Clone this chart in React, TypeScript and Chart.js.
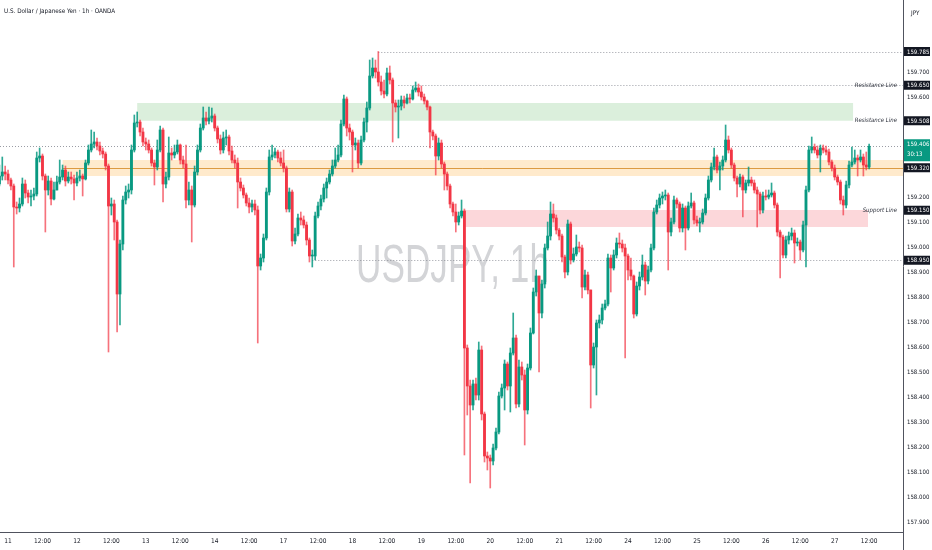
import React, { useEffect, useRef } from "react";
import { Chart, registerables } from "chart.js";

Chart.register(...registerables);

// ---------- DATA ----------
const xTickLabels = ["11","12:00","12","12:00","13","12:00","14","12:00","17","12:00","18","12:00","19","12:00","20","12:00","21","12:00","24","12:00","25","12:00","26","12:00","27","12:00"];
const firstTickIndex = 3;
const candlesPerHalfDay = 12;

const firstOpen = 159.255;
const closes = [
159.287,159.303,159.295,159.271,159.247,159.163,159.159,159.175,159.255,159.219,
159.203,159.207,159.215,159.359,159.367,159.287,159.231,159.267,159.195,159.231,
159.263,159.283,159.311,159.267,159.283,159.275,159.259,159.279,159.287,159.275,
159.339,159.391,159.415,159.423,159.407,159.387,159.375,159.327,159.167,159.175,
159.103,158.815,159.015,159.191,159.223,159.231,159.391,159.499,159.503,159.463,
159.423,159.415,159.391,159.339,159.323,159.391,159.471,159.255,159.283,159.379,
159.371,159.383,159.411,159.351,159.335,159.191,159.231,159.171,159.303,159.391,
159.479,159.519,159.507,159.519,159.527,159.479,159.435,159.391,159.439,159.443,
159.387,159.351,159.339,159.263,159.239,159.211,159.179,159.163,159.175,159.151,
158.927,158.959,159.039,159.223,159.363,159.371,159.383,159.359,159.339,159.319,
159.155,159.223,159.027,159.055,159.119,159.111,159.091,159.031,158.967,158.967,
159.127,159.167,159.195,159.239,159.263,159.295,159.327,159.351,159.371,159.495,
159.595,159.479,159.463,159.411,159.419,159.339,159.431,159.503,159.559,159.687,
159.719,159.703,159.663,159.627,159.615,159.699,159.671,159.579,159.563,159.567,
159.591,159.579,159.599,159.595,159.631,159.639,159.623,159.603,159.587,159.563,
159.463,159.447,159.367,159.419,159.335,159.295,159.247,159.175,159.143,159.103,
159.127,159.147,158.599,158.447,158.371,158.455,158.411,158.591,158.335,158.167,
158.159,158.147,158.199,158.263,158.407,158.439,158.535,158.447,158.579,158.639,
158.375,158.523,158.491,158.351,158.519,158.659,158.823,158.887,158.739,158.855,
158.999,159.047,159.135,159.119,159.071,159.047,158.963,158.903,159.095,158.951,
158.975,159.003,158.999,158.843,158.891,158.831,158.531,158.603,158.699,158.711,
158.759,158.775,158.959,158.919,158.971,159.019,159.015,158.999,158.967,158.911,
158.887,158.735,158.847,158.883,158.931,158.867,158.911,158.999,159.143,159.171,
159.199,159.207,159.211,159.063,159.103,159.191,159.175,159.079,159.159,159.079,
159.167,159.179,159.111,159.099,159.103,159.139,159.199,159.271,159.323,159.363,
159.311,159.327,159.351,159.431,159.391,159.331,159.279,159.255,159.283,159.231,
159.259,159.271,159.259,159.231,159.215,159.151,159.207,159.203,159.211,159.219,
159.171,159.063,159.043,158.971,159.031,159.047,159.059,159.019,159.023,158.991,
159.091,159.231,159.391,159.403,159.391,159.371,159.399,159.391,159.383,159.343,
159.319,159.283,159.263,159.191,159.171,159.251,159.331,159.343,159.359,159.351,
159.363,159.331,159.323,159.406
];
const highs = [
159.331,159.363,159.327,159.311,159.279,159.255,159.183,159.199,159.279,159.271,
159.231,159.231,159.239,159.383,159.399,159.375,159.295,159.287,159.279,159.263,
159.287,159.351,159.331,159.327,159.303,159.303,159.291,159.303,159.311,159.295,
159.351,159.411,159.471,159.463,159.439,159.423,159.399,159.383,159.335,159.199,
159.191,159.111,159.031,159.207,159.247,159.255,159.411,159.531,159.543,159.511,
159.479,159.439,159.431,159.399,159.351,159.431,159.487,159.479,159.303,159.443,
159.399,159.411,159.431,159.415,159.367,159.411,159.263,159.247,159.327,159.411,
159.495,159.563,159.543,159.563,159.559,159.535,159.487,159.451,159.463,159.471,
159.451,159.407,159.371,159.359,159.279,159.251,159.219,159.199,159.191,159.191,
159.167,158.975,159.055,159.239,159.391,159.411,159.399,159.391,159.383,159.391,
159.327,159.239,159.231,159.079,159.135,159.143,159.127,159.103,159.039,158.991,
159.143,159.183,159.211,159.255,159.279,159.311,159.351,159.399,159.411,159.511,
159.611,159.603,159.495,159.471,159.439,159.431,159.447,159.519,159.583,159.751,
159.759,159.751,159.785,159.687,159.671,159.719,159.727,159.679,159.591,159.591,
159.607,159.607,159.615,159.615,159.647,159.663,159.655,159.647,159.615,159.591,
159.567,159.471,159.455,159.439,159.431,159.343,159.303,159.255,159.183,159.175,
159.143,159.191,159.155,158.611,158.471,158.471,158.479,158.623,158.607,158.343,
158.183,158.171,158.215,158.279,158.423,158.455,158.551,158.543,158.599,158.739,
158.651,158.551,158.543,158.511,158.535,158.679,158.839,158.911,158.839,158.871,
159.015,159.103,159.183,159.175,159.131,159.079,159.055,158.971,159.111,159.103,
158.999,159.051,159.023,159.011,158.911,158.903,158.831,158.619,158.711,158.731,
158.775,158.791,158.975,158.971,158.991,159.039,159.059,159.031,159.015,158.975,
158.959,158.891,158.863,158.903,158.971,158.943,158.927,159.015,159.159,159.191,
159.215,159.223,159.231,159.219,159.119,159.207,159.199,159.183,159.175,159.167,
159.183,159.219,159.187,159.127,159.119,159.155,159.215,159.287,159.339,159.399,
159.371,159.343,159.367,159.491,159.447,159.399,159.339,159.287,159.295,159.291,
159.271,159.323,159.283,159.271,159.243,159.223,159.223,159.231,159.231,159.259,
159.227,159.179,159.071,159.051,159.047,159.063,159.079,159.071,159.039,159.031,
159.107,159.247,159.407,159.443,159.415,159.407,159.411,159.411,159.407,159.395,
159.351,159.331,159.291,159.271,159.207,159.267,159.347,159.403,159.391,159.371,
159.391,159.375,159.383,159.415
];
const lows = [
159.247,159.271,159.271,159.255,159.231,158.923,159.135,159.143,159.167,159.199,
159.179,159.167,159.191,159.207,159.343,159.271,159.063,159.211,159.171,159.191,
159.231,159.255,159.271,159.247,159.259,159.255,159.191,159.247,159.267,159.207,
159.271,159.331,159.383,159.399,159.391,159.371,159.359,159.311,158.583,159.131,
159.031,158.663,158.691,158.991,159.175,159.199,159.215,159.383,159.483,159.447,
159.407,159.391,159.379,159.327,159.251,159.311,159.383,159.183,159.239,159.271,
159.351,159.359,159.375,159.335,159.319,159.159,159.171,159.023,159.163,159.291,
159.383,159.471,159.491,159.495,159.503,159.467,159.419,159.375,159.379,159.411,
159.371,159.339,159.319,159.159,159.227,159.199,159.167,159.139,159.143,159.131,
158.619,158.911,158.943,159.031,159.211,159.351,159.359,159.343,159.327,159.303,
159.143,159.143,159.007,159.015,159.047,159.091,159.079,159.011,158.943,158.923,
158.951,159.119,159.151,159.183,159.199,159.255,159.287,159.319,159.343,159.363,
159.487,159.447,159.431,159.303,159.391,159.319,159.331,159.423,159.463,159.551,
159.679,159.679,159.647,159.611,159.599,159.607,159.655,159.423,159.543,159.439,
159.551,159.559,159.575,159.579,159.591,159.623,159.607,159.591,159.575,159.551,
159.399,159.431,159.291,159.351,159.319,159.231,159.231,159.159,159.127,159.063,
159.091,159.119,158.171,158.331,158.059,158.351,158.391,158.391,158.311,158.143,
158.111,158.039,158.131,158.191,158.255,158.399,158.351,158.431,158.343,158.571,
158.359,158.363,158.471,158.211,158.335,158.511,158.655,158.807,158.503,158.719,
158.839,158.991,159.031,159.103,159.055,159.031,158.943,158.879,158.891,158.935,
158.943,158.967,158.983,158.799,158.831,158.815,158.359,158.519,158.411,158.679,
158.695,158.751,158.767,158.823,158.911,158.959,158.999,158.983,158.559,158.871,
158.871,158.719,158.727,158.831,158.871,158.811,158.855,158.903,158.991,159.135,
159.159,159.175,159.191,158.911,159.047,159.095,159.159,159.063,159.063,158.991,
159.071,159.159,159.095,159.087,159.063,159.095,159.131,159.191,159.263,159.311,
159.299,159.231,159.311,159.343,159.379,159.319,159.267,159.203,159.243,159.123,
159.219,159.247,159.247,159.219,159.083,159.135,159.139,159.191,159.195,159.203,
159.159,159.047,158.879,158.959,158.959,159.015,159.031,158.939,159.007,158.951,
158.983,158.923,159.223,159.379,159.379,159.359,159.303,159.379,159.371,159.331,
159.307,159.271,159.251,159.175,159.131,159.159,159.239,159.323,159.335,159.287,
159.343,159.287,159.311,159.315
];

const yTickValues = [157.9,158.0,158.1,158.2,158.3,158.4,158.5,158.6,158.7,158.8,158.9,159.0,159.1,159.2,159.6,159.7];

// zones: candle index range and price band
const zoneFrom = [48, 22, 162];
const zoneTo = [297.4, 314.8, 302.6];
const zoneTop = [159.579, 159.351, 159.151];
const zoneBottom = [159.508, 159.287, 159.083];
const pivotLevel = 159.320;

const levelValues = [159.785, 159.650, 158.950, 159.406];
const levelFrom = [132, 139, 109, 0.2];

const tagValues = [159.785, 159.650, 159.508, 159.320, 159.150, 158.950];
const lastPrice = 159.406;
const countdown = "30:13";

const lineLabelValues = [159.650, 159.508, 159.150];
const lineLabelTexts = ["Resistance Line", "Resistance Line", "Support Line"];

// ---------- STYLE ----------
const UP = "#089981";
const DOWN = "#f23645";
const FONT = '"Liberation Sans Narrow", "DejaVu Sans Condensed", "Liberation Sans", sans-serif';
const ZONE_COLORS = ["rgba(76,175,80,0.2)", "rgba(255,152,0,0.2)", "rgba(242,54,69,0.2)"];
const X_MIN = 0.2;
const X_MAX = 314.8;

const opens = closes.map((_, i) => (i === 0 ? firstOpen : closes[i - 1]));

const overlayPlugin = {
  id: "overlay",
  beforeDatasetsDraw(chart: any) {
    const { ctx, chartArea: a, scales } = chart;
    const x = scales.x, y = scales.y;
    ctx.save();
    ctx.beginPath();
    ctx.rect(a.left, a.top, a.right - a.left, a.bottom - a.top);
    ctx.clip();

    // watermark
    ctx.save();
    ctx.font = `54px "Liberation Sans", sans-serif`;
    const wm = "USDJPY, 1h";
    const w = ctx.measureText(wm).width;
    ctx.translate((a.left + a.right) / 2 + 1, (a.top + a.bottom) / 2 + 1);
    ctx.scale(193 / w, 1);
    ctx.textAlign = "center";
    ctx.textBaseline = "middle";
    ctx.fillStyle = "rgba(120,123,134,0.33)";
    ctx.fillText(wm, 0, 0);
    ctx.restore();

    // zones
    zoneFrom.forEach((f, k) => {
      const x0 = x.getPixelForValue(f);
      const x1 = x.getPixelForValue(zoneTo[k]);
      const y0 = y.getPixelForValue(zoneTop[k]);
      const y1 = y.getPixelForValue(zoneBottom[k]);
      ctx.fillStyle = ZONE_COLORS[k];
      ctx.fillRect(x0, y0, x1 - x0, y1 - y0);
    });
    // pivot line inside orange zone
    {
      const py = Math.round(y.getPixelForValue(pivotLevel)) + 0.5;
      ctx.strokeStyle = "rgba(214,140,40,0.85)";
      ctx.lineWidth = 1;
      ctx.beginPath();
      ctx.moveTo(x.getPixelForValue(zoneFrom[1]), py);
      ctx.lineTo(a.right, py);
      ctx.stroke();
    }
    // dotted levels
    ctx.setLineDash([1, 2]);
    ctx.strokeStyle = "rgba(120,123,134,0.75)";
    levelValues.forEach((v, k) => {
      const py = Math.round(y.getPixelForValue(v)) + 0.5;
      ctx.beginPath();
      ctx.moveTo(x.getPixelForValue(levelFrom[k]), py);
      ctx.lineTo(a.right, py);
      ctx.stroke();
    });
    ctx.restore();
  },
  afterDatasetsDraw(chart: any) {
    const { ctx, chartArea: a, scales } = chart;
    const y = scales.y;
    ctx.save();
    ctx.font = `italic 6px ${FONT}`;
    ctx.fillStyle = "#2a2e39";
    ctx.textAlign = "right";
    ctx.textBaseline = "middle";
    lineLabelValues.forEach((v, k) => {
      ctx.fillText(lineLabelTexts[k], a.right - 6, y.getPixelForValue(v));
    });
    ctx.restore();
  },
  afterDraw(chart: any) {
    const { ctx, chartArea: a, scales, width, height } = chart;
    const y = scales.y;
    ctx.save();
    // extend price axis line through time axis
    ctx.strokeStyle = "#50535e";
    ctx.lineWidth = 1;
    ctx.beginPath();
    ctx.moveTo(Math.round(a.right) + 0.5, a.bottom);
    ctx.lineTo(Math.round(a.right) + 0.5, height);
    ctx.stroke();

    ctx.font = `6px ${FONT}`;
    ctx.textAlign = "left";
    ctx.textBaseline = "middle";
    const bx = a.right + 1;
    const bw = width - bx - 2;
    tagValues.forEach((v) => {
      const py = y.getPixelForValue(v);
      ctx.fillStyle = "#131722";
      ctx.fillRect(bx, py - 4.5, bw, 9);
      ctx.fillStyle = "#ffffff";
      ctx.fillText(v.toFixed(3), a.right + 4, py + 0.5);
    });
    const lp = y.getPixelForValue(lastPrice);
    ctx.fillStyle = UP;
    ctx.fillRect(bx, lp - 7, bw, 22);
    ctx.fillStyle = "#ffffff";
    ctx.fillText(lastPrice.toFixed(3), a.right + 4, lp - 2);
    ctx.fillText(countdown, a.right + 4, lp + 8);
    ctx.restore();
  },
};

export default function App() {
  const ref = useRef<HTMLCanvasElement | null>(null);

  useEffect(() => {
    document.body.style.margin = "0";
    const canvas = ref.current;
    if (!canvas) return;
    const colors = closes.map((c, i) => (c >= opens[i] ? UP : DOWN));
    const wickColors = closes.map((c, i) => (c >= opens[i] ? "rgba(8,153,129,0.85)" : "rgba(242,54,69,0.7)"));
    const wicks = closes.map((c, i) => ({
      x: i,
      y: [Math.min(lows[i], opens[i], c), Math.max(highs[i], opens[i], c)],
    }));
    const bodies = closes.map((c, i) => ({ x: i, y: [opens[i], c] }));

    const chart = new Chart(canvas, {
      type: "bar",
      data: {
        datasets: [
          {
            data: wicks as any,
            backgroundColor: wickColors,
            barThickness: 1,
            grouped: false,
            order: 2,
          } as any,
          {
            data: bodies as any,
            backgroundColor: colors,
            barThickness: 2.2,
            minBarLength: 1,
            grouped: false,
            order: 1,
          } as any,
        ],
      },
      options: {
        animation: false,
        responsive: false,
        maintainAspectRatio: false,
        layout: { padding: 0 },
        plugins: { legend: { display: false }, tooltip: { enabled: false }, title: { display: false } },
        scales: {
          x: {
            type: "linear",
            min: X_MIN,
            max: X_MAX,
            offset: false,
            grid: { display: false, drawTicks: false, tickLength: 0 },
            border: { display: true, color: "#50535e" },
            ticks: {
              autoSkip: false,
              maxRotation: 0,
              padding: 5,
              color: "#131722",
              font: { size: 6.5, family: FONT },
              callback: (v: any) => {
                const k = Math.round((Number(v) - firstTickIndex) / candlesPerHalfDay);
                return xTickLabels[k] ?? "";
              },
            },
            afterBuildTicks: (s: any) => {
              s.ticks = xTickLabels.map((_, k) => ({ value: firstTickIndex + k * candlesPerHalfDay }));
            },
            afterFit: (s: any) => {
              s.height = 18;
              s.paddingLeft = 0;
              s.paddingRight = 0;
            },
          } as any,
          y: {
            type: "linear",
            position: "right",
            min: 157.863,
            max: 159.991,
            grid: { display: false, drawTicks: false, tickLength: 0 },
            border: { display: true, color: "#50535e" },
            ticks: {
              padding: 4,
              color: "#131722",
              font: { size: 6, family: FONT },
              callback: (v: any) => Number(v).toFixed(3),
            },
            afterBuildTicks: (s: any) => {
              s.ticks = yTickValues.map((v) => ({ value: v }));
            },
            afterFit: (s: any) => {
              s.width = 29;
              s.paddingTop = 0;
              s.paddingBottom = 0;
            },
          } as any,
        },
      },
      plugins: [overlayPlugin as any],
    });
    return () => chart.destroy();
  }, []);

  return (
    <div style={{ position: "fixed", left: 0, top: 0, width: 932, height: 550, background: "#ffffff", overflow: "hidden" }}>
      <canvas ref={ref} width={932} height={550} style={{ display: "block" }} />
      <div style={{ position: "absolute", left: 4, top: 7, font: `6.3px ${FONT}`, color: "#131722", whiteSpace: "nowrap" }}>
        U.S. Dollar / Japanese Yen · 1h · OANDA
      </div>
      <div style={{ position: "absolute", left: 911, top: 9, font: `6.3px ${FONT}`, color: "#131722" }}>JPY</div>
    </div>
  );
}
